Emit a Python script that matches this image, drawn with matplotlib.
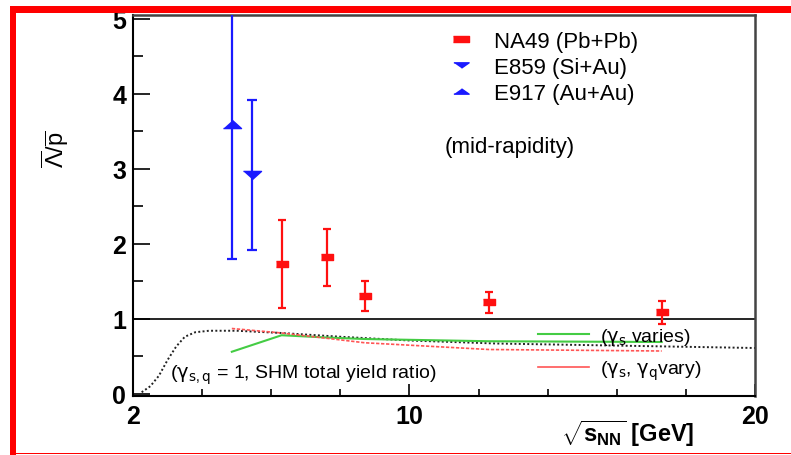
import matplotlib.pyplot as plt
from matplotlib.lines import Line2D
from matplotlib.patches import Rectangle

# data
na49_x = [6.3, 7.6, 8.7, 12.3, 17.3]
na49_y = [1.73, 1.82, 1.31, 1.23, 1.09]
na49_lo = [0.58, 0.38, 0.20, 0.15, 0.16]
na49_hi = [0.59, 0.38, 0.20, 0.13, 0.15]

e859_x = [5.45]
e859_y = [2.92]
e859_err = [1.0]

e917_x = [4.86]
e917_y = [3.6]
e917_err = [1.8]

shm_x = [2.25, 2.5, 2.75, 3.0, 3.25, 3.5, 3.8, 4.2, 5.0, 6.3, 8.0, 10.0, 12.5, 15.0, 17.5, 20.0]
shm_y = [0.02, 0.10, 0.24, 0.45, 0.63, 0.76, 0.82, 0.84, 0.84, 0.81, 0.76, 0.71, 0.67, 0.65, 0.63, 0.61]

model_x = [4.86, 6.3, 7.6, 8.7, 12.3, 17.3]
gs_y = [0.56, 0.78, 0.75, 0.73, 0.70, 0.69]
gsq_y = [0.87, 0.81, 0.74, 0.68, 0.59, 0.57]

plt.rcParams['font.family'] = ['Liberation Sans', 'DejaVu Sans']
plt.rcParams['mathtext.fontset'] = 'custom'
plt.rcParams['mathtext.rm'] = 'Liberation Sans'
plt.rcParams['mathtext.it'] = 'DejaVu Sans'
plt.rcParams['mathtext.bf'] = 'Liberation Sans:bold'

W, H = 791, 456
fig = plt.figure(figsize=(W / 100, H / 100), dpi=100)
ax = fig.add_axes([133 / W, 1 - 397 / H, 622 / W, 381 / H])

red = '#ff1010'
blue = '#1a1aff'

# wide, flat marker shapes like the stretched original
rect = [(-1, -0.55), (1, -0.55), (1, 0.55), (-1, 0.55)]
tri_up = [(-1, -0.45), (1, -0.45), (0, 0.45)]
tri_dn = [(-1, 0.45), (1, 0.45), (0, -0.45)]
rect_leg = [(-1, -0.35), (1, -0.35), (1, 0.35), (-1, 0.35)]
tri_up_leg = [(-1, -0.35), (1, -0.35), (0, 0.35)]
tri_dn_leg = [(-1, 0.35), (1, 0.35), (0, -0.35)]

ax.errorbar(na49_x, na49_y, yerr=[na49_lo, na49_hi], fmt='none', ecolor=red,
            elinewidth=1.6, capsize=3, capthick=1.6, zorder=3)
ax.plot(na49_x, na49_y, linestyle='none', marker=rect, markersize=8, color=red, zorder=4)

ax.errorbar(e859_x, e859_y, yerr=e859_err, fmt='none', ecolor=blue,
            elinewidth=1.6, capsize=3.5, capthick=1.6, zorder=3)
ax.plot(e859_x, e859_y, linestyle='none', marker=tri_dn, markersize=13, color=blue, zorder=4)

ax.errorbar(e917_x, e917_y, yerr=e917_err, fmt='none', ecolor=blue,
            elinewidth=1.6, capsize=3.5, capthick=1.6, zorder=3)
ax.plot(e917_x, e917_y, linestyle='none', marker=tri_up, markersize=13, color=blue, zorder=4)

ax.axhline(1, color='black', lw=1.2)

ax.plot(shm_x, shm_y, color='#222222', lw=1.4, linestyle=(0, (1, 1.2)))
ax.plot(model_x, gs_y, color='#44cc44', lw=1.5)
ax.plot(model_x, gsq_y, color='#ff5555', lw=1.2, linestyle=(0, (2, 1)))

ax.set_xlim(2, 20)
ax.set_ylim(-0.03, 5.05)
ax.set_xticks([2, 10, 20])
ax.set_xticks([4, 6, 8, 12, 14, 16, 18], minor=True)
ax.set_yticks([0, 1, 2, 3, 4, 5])
ax.set_yticks([0.5, 1.5, 2.5, 3.5, 4.5], minor=True)
ax.tick_params(axis='both', which='both', direction='in', labelsize=18, width=1.2)
ax.tick_params(axis='y', which='major', length=12, pad=5)
ax.tick_params(axis='y', which='minor', length=7)
ax.tick_params(axis='x', which='major', length=9, pad=6)
ax.tick_params(axis='x', which='minor', length=5)
for lab in ax.get_xticklabels() + ax.get_yticklabels():
    lab.set_fontweight('bold')

for s in ['left', 'bottom']:
    ax.spines[s].set_linewidth(1.5)
for s in ['top', 'right']:
    ax.spines[s].set_linewidth(1.8)
    ax.spines[s].set_color('#444444')

leg1 = ax.legend(
    [Line2D([], [], linestyle='none', marker=rect_leg, markersize=11, color=red),
     Line2D([], [], linestyle='none', marker=tri_dn_leg, markersize=11, color=blue),
     Line2D([], [], linestyle='none', marker=tri_up_leg, markersize=11, color=blue)],
    ['NA49 (Pb+Pb)', 'E859 (Si+Au)', 'E917 (Au+Au)'],
    loc='upper left', bbox_to_anchor=(450 / W, 1 - 32 / H), bbox_transform=fig.transFigure,
    frameon=False, fontsize=16, handlelength=1.0, handletextpad=1.0,
    labelspacing=0.22, borderpad=0, borderaxespad=0)
ax.add_artist(leg1)

ax.legend(
    [Line2D([], [], color='#44cc44', lw=1.5), Line2D([], [], color='#ff5555', lw=1.2)],
    [r'($\gamma_s$ varies)', r'($\gamma_s$, $\gamma_q$vary)'],
    loc='upper left', bbox_to_anchor=(538 / W, 1 - 327 / H), bbox_transform=fig.transFigure,
    frameon=False, fontsize=14, handlelength=2.6, handletextpad=0.6,
    labelspacing=0.6, borderpad=0, borderaxespad=0)

ax.text(0.606, 0.656, '(mid-rapidity)', transform=ax.transAxes, fontsize=16,
        ha='center', va='center')
ax.text(0.06, 0.058, r'($\gamma_{s,q}$ = 1, SHM total yield ratio)', transform=ax.transAxes,
        fontsize=14, ha='left', va='center')

fig.text(55 / W, 1 - 149 / H, r'$\overline{\Lambda}/\overline{\mathrm{p}}$', rotation=90,
         fontsize=17, ha='center', va='center')
fig.text(628 / W, 1 - 434 / H, r'$\sqrt{\mathbf{s}_{\mathbf{NN}}}$ [GeV]', fontsize=17,
         fontweight='bold', ha='center', va='center')

# red slide frame
fig.add_artist(Rectangle((10 / W, 1 - 14 / H), 1, 7 / H, transform=fig.transFigure,
                         color='#ff0000', lw=0))
fig.add_artist(Rectangle((10 / W, 0), 6 / W, 1 - 7 / H, transform=fig.transFigure,
                         color='#ff0000', lw=0))
fig.add_artist(Rectangle((10 / W, 1 / H), 1, 1.5 / H, transform=fig.transFigure,
                         color='#ff0000', lw=0))

fig.savefig('out.png', dpi=100)
